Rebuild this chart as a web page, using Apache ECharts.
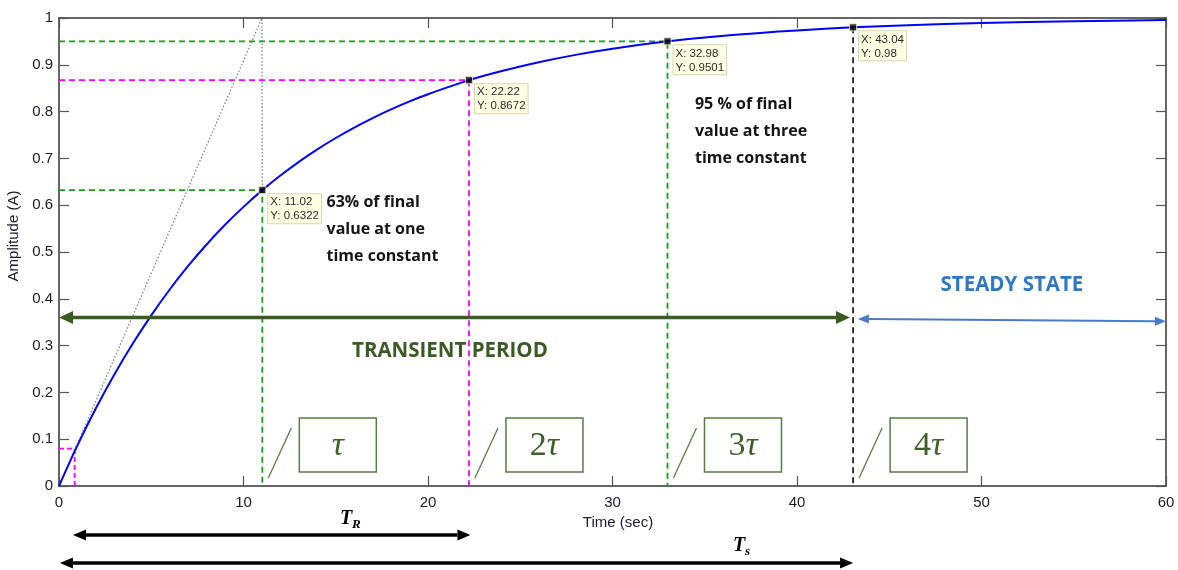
<!DOCTYPE html>
<html><head><meta charset="utf-8">
<script src="https://cdn.jsdelivr.net/npm/echarts@6/dist/echarts.min.js"></script>
<style>html,body{margin:0;padding:0;background:#fff}#c{width:1178px;height:570px}</style>
</head><body><div id="c"></div>
<script>
// ---- data ----
const timeSec   = [0, 1, 2, 3, 4, 5, 6, 7, 8, 9, 10, 11.02, 12, 13, 14, 15, 16, 17, 18, 19, 20, 22.22, 24, 26, 28, 30, 32.98, 35, 38, 40, 43.04, 46, 50, 55, 60];
const amplitude = [0, 0.0867, 0.166, 0.2383, 0.3044, 0.3647, 0.4199, 0.4702, 0.5161, 0.5581, 0.5964, 0.6322, 0.6634, 0.6926, 0.7193, 0.7436, 0.7659, 0.7862, 0.8047, 0.8217, 0.8371, 0.8672, 0.8867, 0.9055, 0.9212, 0.9343, 0.9501, 0.9583, 0.9682, 0.9735, 0.98, 0.9846, 0.9893, 0.9932, 0.9957];
const tipX = [11.02, 22.22, 32.98, 43.04];
const tipY = [0.6322, 0.8672, 0.9501, 0.98];
const tipXText = ['11.02', '22.22', '32.98', '43.04'];
const tipYText = ['0.6322', '0.8672', '0.9501', '0.98'];
const tauCoef = ['', '2', '3', '4'];
const tangentX = [0, 11, 11.02];
const tangentY = [0, 1, 0.6322];
const smallMarkX = [0, 0.85, 0.85];
const smallMarkY = [0.08, 0.08, 0];
const transientRange = [0, 42.87];
const steadyRange = [43.3, 60];
const riseRange = [0.76, 22.3];
const settleRange = [0.05, 43.04];
const xMin = 0, xMax = 60, xStep = 10;
const yMin = 0, yMax = 1, yStep = 0.1;

// ---- styles ----
const guideColors = ['#1c9a1c', '#ff00ff', '#1c9a1c', '#222222'];
const AX = '#333333';
const LBL = {color: '#1a1a2a', fontFamily: 'Liberation Sans', fontSize: 15};

const chart = echarts.init(document.getElementById('c'), null, {renderer: 'canvas'});

function guideSeries(i) {
  const pts = i < 3 ? [[0, tipY[i]], [tipX[i], tipY[i]], [tipX[i], 0]] : [[tipX[i], tipY[i]], [tipX[i], 0]];
  return {
    type: 'line', data: pts, symbol: 'none', silent: true, z: 2,
    lineStyle: {color: guideColors[i], width: 1.8, type: [6, 4]}
  };
}

const axisCommon = {
  type: 'value', min: xMin, max: xMax, interval: xStep,
  splitLine: {show: false},
  axisLine: {show: true, onZero: false, lineStyle: {color: AX, width: 1.5}},
  axisTick: {show: true, inside: true, length: 10, lineStyle: {color: '#555', width: 1.2}}
};

chart.setOption({
  animation: false,
  grid: {left: 59, right: 12, top: 18, bottom: 84, containLabel: false, outerBoundsMode: 'none'},
  xAxis: [
    Object.assign({}, axisCommon, {
      position: 'bottom',
      axisLabel: Object.assign({margin: 9}, LBL),
      name: 'Time (sec)', nameLocation: 'middle', nameGap: 27,
      nameTextStyle: Object.assign({padding: [0, 0, 0, 11]}, LBL)
    }),
    Object.assign({}, axisCommon, {position: 'top', axisLabel: {show: false}})
  ],
  yAxis: [
    Object.assign({}, axisCommon, {
      min: yMin, max: yMax, interval: yStep, position: 'left',
      axisLabel: Object.assign({margin: 6}, LBL),
      name: 'Amplitude (A)', nameLocation: 'middle', nameGap: 33,
      nameTextStyle: Object.assign({padding: [0, 0, 0, 32]}, LBL)
    }),
    Object.assign({}, axisCommon, {min: yMin, max: yMax, interval: yStep, position: 'right', axisLabel: {show: false}})
  ],
  series: [
    guideSeries(0), guideSeries(1), guideSeries(2), guideSeries(3),
    {type: 'line', data: smallMarkX.map((x, i) => [x, smallMarkY[i]]), symbol: 'none', z: 2,
     lineStyle: {color: '#ff00ff', width: 1.8, type: [5, 3]}},
    {type: 'line', data: tangentX.map((x, i) => [x, tangentY[i]]), symbol: 'none', z: 2,
     lineStyle: {color: '#7a7a7a', width: 1.2, type: [1.5, 2]}},
    {type: 'line', data: timeSec.map((t, i) => [t, amplitude[i]]), symbol: 'none', smooth: 0.3, z: 3,
     lineStyle: {color: '#0000ff', width: 2}},
    {type: 'scatter', data: tipX.map((x, i) => [x, tipY[i]]), symbol: 'rect', symbolSize: 7, z: 5,
     itemStyle: {color: '#000', borderColor: '#e8e8c8', borderWidth: 1}}
  ]
});

function P(x, y) { return chart.convertToPixel({xAxisIndex: 0, yAxisIndex: 0}, [x, y]); }

function arrow(p1, p2, color, w, hl, hw) {
  const dx = p2[0] - p1[0], dy = p2[1] - p1[1];
  const L = Math.sqrt(dx * dx + dy * dy);
  const ux = dx / L, uy = dy / L, nx = -uy, ny = ux;
  const b1 = [p1[0] + ux * hl, p1[1] + uy * hl];
  const b2 = [p2[0] - ux * hl, p2[1] - uy * hl];
  return [
    {type: 'line', z: 50, shape: {x1: b1[0], y1: b1[1], x2: b2[0], y2: b2[1]}, style: {stroke: color, lineWidth: w}},
    {type: 'polygon', z: 51, shape: {points: [p1, [b1[0] + nx * hw, b1[1] + ny * hw], [b1[0] - nx * hw, b1[1] - ny * hw]]}, style: {fill: color}},
    {type: 'polygon', z: 51, shape: {points: [p2, [b2[0] + nx * hw, b2[1] + ny * hw], [b2[0] - nx * hw, b2[1] - ny * hw]]}, style: {fill: color}}
  ];
}

const g = [];
// data tips
tipX.forEach((x, i) => {
  const p = P(x, tipY[i]);
  g.push({type: 'text', z: 60, style: {
    text: 'X: ' + tipXText[i] + '\nY: ' + tipYText[i],
    x: p[0] + 6, y: p[1] + 4, align: 'left', verticalAlign: 'top',
    font: '11.5px "Liberation Sans"', fill: '#2a2a2a', lineHeight: 14,
    backgroundColor: '#ffffe4', borderColor: '#d6d6b4', borderWidth: 1, padding: [1, 2, 0, 2]
  }});
});
// annotation texts
const noteFont = 'bold 16px "Open Sans"';
const note1 = ['63% of final', 'value at one', 'time constant'];
const note2 = ['95 % of final', 'value at three', 'time constant'];
const n1 = P(14.5, 0.606), n2 = P(34.47, 0.816);
note1.forEach((t, i) => g.push({type: 'text', z: 60, style: {text: t, x: n1[0], y: n1[1] + i * 27, align: 'left', verticalAlign: 'middle', font: noteFont, fill: '#151515'}}));
note2.forEach((t, i) => g.push({type: 'text', z: 60, style: {text: t, x: n2[0], y: n2[1] + i * 27, align: 'left', verticalAlign: 'middle', font: noteFont, fill: '#151515'}}));
const ss = P(51.65, 0.43), tp = P(21.19, 0.289);
g.push({type: 'text', z: 60, style: {text: 'STEADY STATE', x: ss[0], y: ss[1], align: 'center', verticalAlign: 'middle', font: 'bold 20.5px "Open Sans"', fill: '#2e78c4'}});
g.push({type: 'text', z: 60, style: {text: 'TRANSIENT PERIOD', x: tp[0], y: tp[1], align: 'center', verticalAlign: 'middle', font: 'bold 20.5px "Open Sans"', fill: '#3b5a24'}});
// arrows
g.push(...arrow(P(transientRange[0], 0.36), P(transientRange[1], 0.36), '#3b5a24', 3.5, 14, 6.5));
g.push(...arrow(P(steadyRange[0], 0.357), P(steadyRange[1], 0.352), '#4a7bc8', 2, 11, 4.5));
const yR = 535, yS = 563;
g.push(...arrow([P(riseRange[0], 0)[0], yR], [P(riseRange[1], 0)[0], yR], '#000', 3.5, 13, 5.5));
g.push(...arrow([P(settleRange[0], 0)[0], yS], [P(settleRange[1], 0)[0], yS], '#000', 3.5, 13, 5.5));
// T_R and T_s labels
const tr = P(15.23, 0)[0], ts = P(36.53, 0)[0];
g.push({type: 'text', z: 60, style: {text: 'T', x: tr, y: 519, align: 'left', verticalAlign: 'middle', font: 'italic bold 20px "Liberation Serif"', fill: '#000'}});
g.push({type: 'text', z: 60, style: {text: 'R', x: tr + 12, y: 525, align: 'left', verticalAlign: 'middle', font: 'italic bold 13px "Liberation Serif"', fill: '#000'}});
g.push({type: 'text', z: 60, style: {text: 'T', x: ts, y: 546, align: 'left', verticalAlign: 'middle', font: 'italic bold 20px "Liberation Serif"', fill: '#000'}});
g.push({type: 'text', z: 60, style: {text: 's', x: ts + 12, y: 552, align: 'left', verticalAlign: 'middle', font: 'italic bold 13px "Liberation Serif"', fill: '#000'}});
// tau boxes
tipX.forEach((x, i) => {
  const px = P(x, 0)[0];
  g.push({type: 'line', z: 55, shape: {x1: px + 6, y1: 478, x2: px + 29, y2: 428}, style: {stroke: '#5b7b44', lineWidth: 1.3}});
  g.push({type: 'rect', z: 55, shape: {x: px + 37, y: 418, width: 77, height: 54}, style: {fill: '#fff', stroke: '#5b7b44', lineWidth: 1.5}});
  const txt = (tauCoef[i] ? '{n|' + tauCoef[i] + '}' : '') + '{t|τ}';
  g.push({type: 'text', z: 56, style: {
    text: txt, x: px + 37 + 38.5, y: 446, align: 'center', verticalAlign: 'middle',
    rich: {
      n: {font: '34px "Liberation Serif"', fill: '#3e6028'},
      t: {font: 'italic 34px "Liberation Serif"', fill: '#3e6028'}
    }
  }});
});
chart.setOption({graphic: g});
</script>
</body></html>
